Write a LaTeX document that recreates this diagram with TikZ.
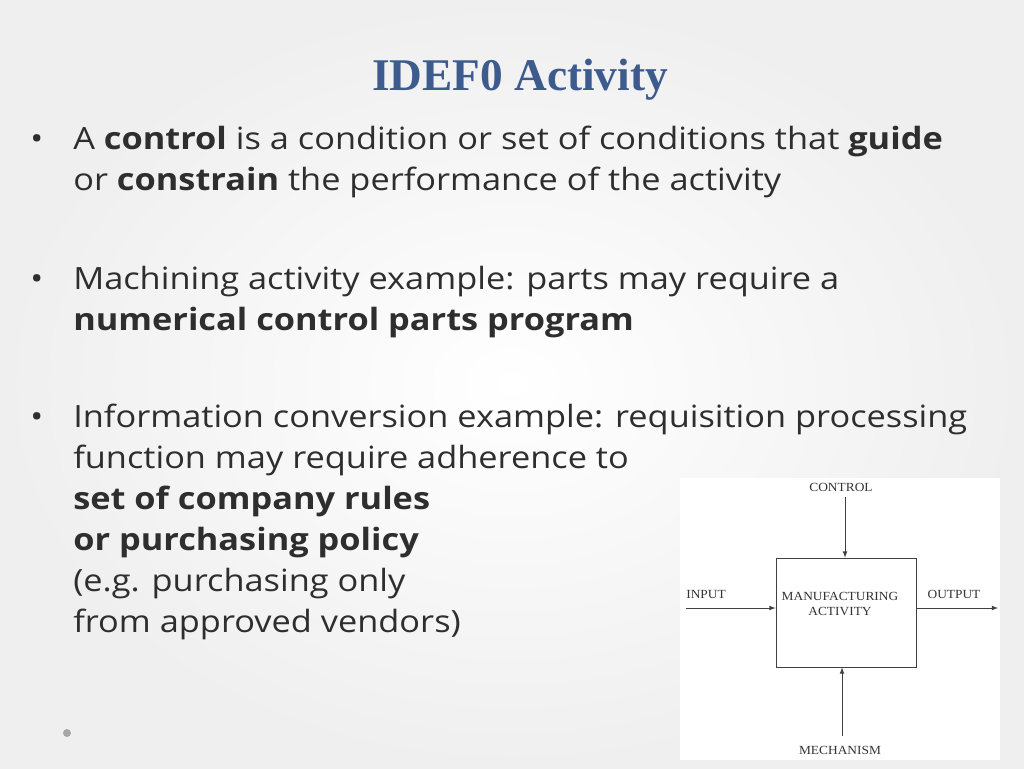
\documentclass[tikz,border=0pt]{standalone}
\usepackage{fontspec}
\setmainfont[FakeStretch=1.12]{Open Sans}
\newfontfamily\serifbold{Liberation Serif}
\newfontfamily\diag[FakeStretch=1.08]{Liberation Serif}
\definecolor{titleblue}{HTML}{3E5B8E}
\definecolor{bg}{HTML}{EFEFEF}
\begin{document}
\begin{tikzpicture}[x=0.75pt,y=-0.75pt,
  bodytext/.style={anchor=base west,inner sep=0pt,font=\fontsize{23}{27}\selectfont,text=black!82},
  bul/.style={anchor=base west,inner sep=0pt,font=\fontsize{23}{27}\selectfont,text=black!82},
  lab/.style={font=\diag\fontsize{9.3}{11}\selectfont,text=black!80,inner sep=1pt},
  arr/.style={-latex,black!75,line width=0.6pt}]
\useasboundingbox (0,0) rectangle (1024,768);
\shade[inner color=white,outer color=bg] (0,0) rectangle (1024,768);
\node[font=\serifbold\bfseries\fontsize{34}{38}\selectfont,text=titleblue] (title) at (520,80) {IDEF0 Activity};
\node[bul] (b1) at (30,149) {•};
\node[bodytext] (l1) at (73,149) {A \textbf{control} is a condition or set of conditions that \textbf{guide}};
\node[bodytext] (l2) at (73,190) {or \textbf{constrain} the performance of the activity};
\node[bul] (b2) at (30,289) {•};
\node[bodytext] (l3) at (73,289) {Machining activity example: parts may require a};
\node[bodytext] (l4) at (73,330) {\textbf{numerical control parts program}};
\node[bul] (b3) at (30,427) {•};
\node[bodytext] (l5) at (73,427) {Information conversion example: requisition processing};
\node[bodytext] (l6) at (73,468) {function may require adherence to};
\node[bodytext] (l7) at (73,509) {\textbf{set of company rules}};
\node[bodytext] (l8) at (73,550) {\textbf{or purchasing policy}};
\node[bodytext] (l9) at (73,591) {(e.g. purchasing only};
\node[bodytext] (l10) at (73,632) {from approved vendors)};
\fill[gray!70] (67,733) circle[radius=4];
% diagram
\fill[white] (680,478) rectangle (1000,760);
\node[draw=black!75,line width=0.6pt,minimum width=140*0.75pt,minimum height=109*0.75pt,inner sep=0pt] (box) at (846,612.5) {};
\node[lab,align=center] (act) at (840,604) {MANUFACTURING\\ACTIVITY};
\node[lab] (ctl) at (841,487) {CONTROL};
\node[lab] (inp) at (706,594) {INPUT};
\node[lab] (outp) at (954,594) {OUTPUT};
\node[lab] (mech) at (840,750) {MECHANISM};
\coordinate (cs) at (845,497);
\coordinate (is) at (686,608);
\coordinate (oe) at (998,608);
\coordinate (ms) at (842,736);
\draw[arr] (cs) -- (cs |- box.north);
\draw[arr] (is) -- (is -| box.west);
\draw[arr] (is -| box.east) -- (oe);
\draw[arr] (ms) -- (ms |- box.south);
\end{tikzpicture}
\end{document}
